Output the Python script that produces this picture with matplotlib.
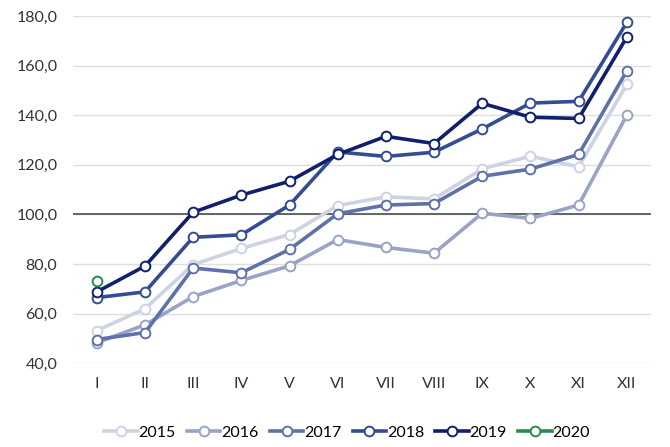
import matplotlib.pyplot as plt

months = ['I', 'II', 'III', 'IV', 'V', 'VI', 'VII', 'VIII', 'IX', 'X', 'XI', 'XII']

y2015 = [53.2, 62.0, 79.8, 86.3, 91.9, 103.6, 107.1, 106.3, 118.4, 123.5, 119.2, 152.4]
y2016 = [48.3, 55.5, 66.9, 73.4, 79.3, 89.9, 86.7, 84.4, 100.5, 98.4, 103.8, 140.0]
y2017 = [49.6, 52.4, 78.4, 76.5, 85.9, 100.3, 103.8, 104.4, 115.4, 118.3, 124.2, 157.9]
y2018 = [66.5, 68.8, 90.8, 91.8, 103.8, 125.2, 123.4, 125.1, 134.5, 144.9, 145.6, 177.4]
y2019 = [68.8, 79.2, 100.9, 107.8, 113.4, 124.2, 131.5, 128.6, 144.8, 139.2, 138.7, 171.5]
y2020 = [73.3]

series = [
    ('2015', y2015, '#ced3e4'),
    ('2016', y2016, '#98a3c6'),
    ('2017', y2017, '#6071a9'),
    ('2018', y2018, '#344c92'),
    ('2019', y2019, '#12206c'),
    ('2020', y2020, '#2a8a4e'),
]

plt.rcParams['font.family'] = ['Lato', 'DejaVu Sans']

fig = plt.figure(figsize=(6.7, 4.47), dpi=100)
ax = fig.add_axes([0.1085, 0.1872, 0.863, 0.777])

x = list(range(len(months)))
for name, vals, col in series:
    ax.plot(x[:len(vals)], vals, color=col, lw=2.6, marker='o', ms=7,
            mfc='white', mec=col, mew=1.4, label=name, zorder=3)

ax.set_xlim(-0.5, 11.5)
ax.set_ylim(40, 180)
ax.set_yticks(range(40, 181, 20))
ax.set_yticklabels([f'{v},0' for v in range(40, 181, 20)])
ax.set_xticks(x)
ax.set_xticklabels(months)
ax.yaxis.grid(True, color='#dedede', lw=1.0)
ax.set_axisbelow(True)
ax.axhline(100, color='#5a5a5a', lw=1.3, zorder=2)
for s in ax.spines.values():
    s.set_visible(False)
ax.tick_params(length=0, labelsize=11.5, colors='#333333')
ax.tick_params(axis='y', pad=11)
ax.tick_params(axis='x', pad=10)

fig.legend(loc='center', bbox_to_anchor=(0.518, 0.032), ncol=6, frameon=False,
           fontsize=11.5, handlelength=2.1, handletextpad=0.05, columnspacing=0.7)

fig.savefig('out.png', dpi=100)
